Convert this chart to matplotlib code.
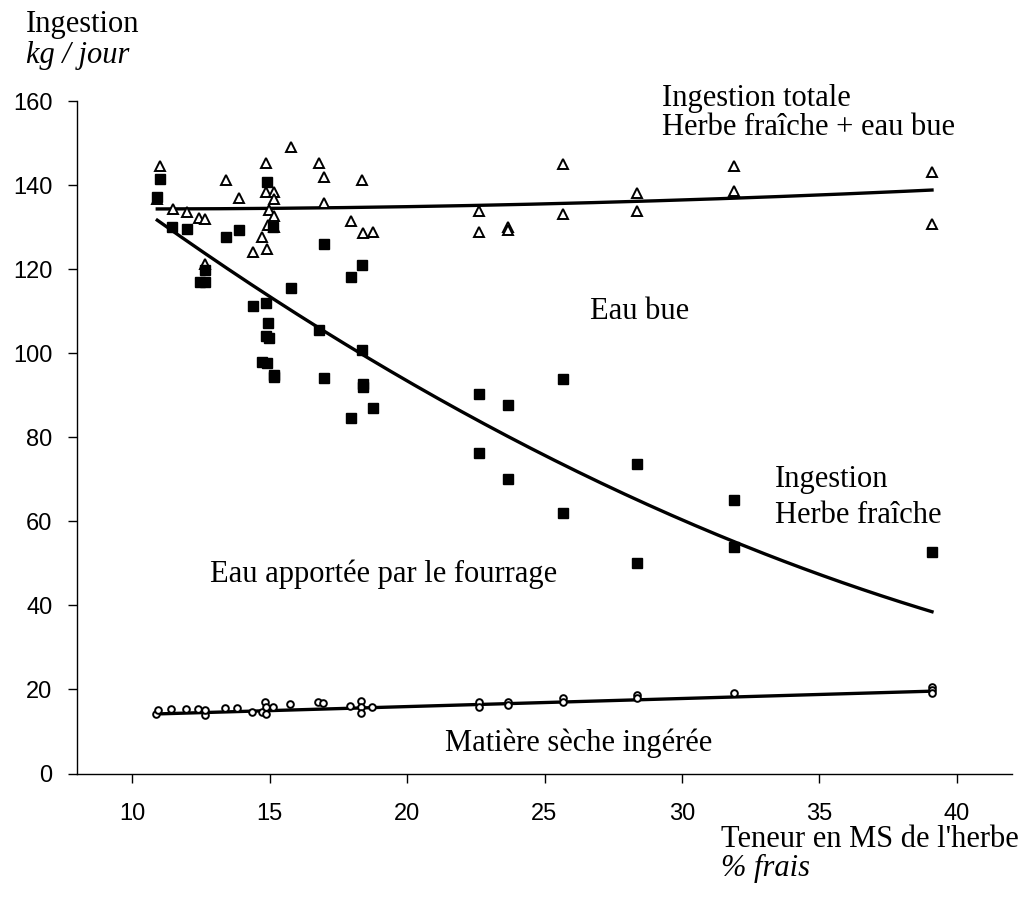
import numpy as np
import matplotlib
matplotlib.use("Agg")
import matplotlib.pyplot as plt

# Ingestion totale (herbe fraiche + eau bue), kg/jour -- open triangles
total_x = [11.0, 15.78, 14.88, 16.78, 13.41, 16.98, 18.36, 10.91, 13.88, 14.88, 15.16, 15.16,
           16.98, 11.47, 11.99, 12.43, 12.63, 14.99, 15.16, 14.93, 15.16, 14.73, 14.40, 14.90,
           17.97, 18.38, 18.75, 12.66,
           22.62, 22.62, 23.66, 23.66, 25.69, 25.69, 28.35, 28.35, 31.9, 31.9, 39.1, 39.1]
total_y = [144.6, 149.2, 145.3, 145.3, 141.3, 141.9, 141.3, 136.7, 137.0, 138.5, 138.4, 136.8,
           135.9, 134.3, 133.6, 132.3, 132.0, 134.2, 132.7, 130.6, 130.0, 127.7, 124.2, 124.8,
           131.6, 128.6, 128.8, 121.2,
           133.8, 128.8, 130.0, 129.5, 145.2, 133.1, 138.1, 133.8, 144.7, 138.7, 143.1, 130.8]

# Ingestion d'herbe fraiche, kg/jour -- filled squares
herbe_x = [11.01, 14.89, 10.91, 11.46, 11.99, 13.41, 13.88, 15.13, 16.98, 18.36, 17.96, 12.66,
           12.46, 12.63, 15.78, 14.40, 14.88, 14.94, 14.87, 14.99, 14.73, 14.89, 15.16, 15.16,
           16.79, 18.35, 16.98, 18.38, 18.38, 18.75, 17.96,
           22.62, 22.62, 23.66, 23.66, 25.69, 25.69, 28.35, 28.35, 31.9, 31.9, 39.1]
herbe_y = [141.5, 140.9, 137.3, 130.2, 129.6, 127.8, 129.4, 130.2, 126.0, 121.1, 118.3, 119.9,
           116.9, 117.1, 115.5, 111.4, 112.0, 107.3, 104.2, 103.6, 98.0, 97.7, 94.9, 94.3,
           105.6, 100.8, 94.1, 92.7, 92.1, 87.1, 84.7,
           90.3, 76.4, 87.7, 70.1, 93.9, 62.1, 73.6, 50.0, 65.1, 54.0, 52.7]

# Matiere seche ingeree, kg/jour -- open circles
ms_x = [10.85, 10.95, 11.41, 11.94, 12.38, 12.63, 12.63, 13.37, 13.82, 14.37, 14.73, 14.83,
        14.85, 14.87, 15.11, 15.74, 16.75, 16.93, 17.92, 18.32, 18.32, 18.32, 18.71,
        22.62, 22.62, 23.66, 23.66, 25.69, 25.69, 28.35, 28.35, 31.9, 39.1, 39.1, 39.1]
ms_y = [14.2, 15.1, 15.3, 15.4, 15.3, 13.9, 15.2, 15.7, 15.5, 14.7, 14.6, 17.0,
        15.9, 14.2, 15.8, 16.5, 17.1, 16.7, 16.1, 17.3, 15.9, 14.5, 15.9,
        17.0, 15.9, 17.0, 16.2, 17.9, 17.1, 18.7, 17.9, 19.2, 20.7, 19.8, 19.1]

# trend line coefficients (highest power first)
total_coef = [0.005247, -0.1027, 134.895]
herbe_coef = [0.0472, -5.667, 187.93]
ms_coef = [0.1922, 12.086]

x_ticks = [10, 15, 20, 25, 30, 35, 40]
y_ticks = [0, 20, 40, 60, 80, 100, 120, 140, 160]

W, H = 1026, 908
fig = plt.figure(figsize=(W / 100, H / 100), dpi=100)
ax = fig.add_axes([77.3 / W, 1 - 773.5 / H, (1011.7 - 77.3) / W, (773.5 - 101.4) / H])

serif = "Liberation Serif"
sans = "Liberation Sans"

for x, coef in ((total_x, total_coef), (herbe_x, herbe_coef), (ms_x, ms_coef)):
    xs = np.linspace(min(x), max(x), 200)
    ax.plot(xs, np.polyval(coef, xs), color="black", lw=2.4, zorder=2)

ax.plot(total_x, total_y, ls="none", marker="^", ms=6.8, mfc="white", mec="black", mew=1.4, zorder=3)
ax.plot(herbe_x, herbe_y, ls="none", marker="s", ms=6.5, mfc="black", mec="black", zorder=3)
ax.plot(ms_x, ms_y, ls="none", marker="o", ms=4.8, mfc="white", mec="black", mew=1.4, zorder=3)

ax.set_xlim(8, 42)
ax.set_ylim(0, 160)
ax.set_xticks(x_ticks)
ax.set_yticks(y_ticks)
for s in ("top", "right"):
    ax.spines[s].set_visible(False)
for s in ("left", "bottom"):
    ax.spines[s].set_linewidth(1.0)
ax.tick_params(direction="out", length=6.8, width=1.0)
ax.tick_params(axis="y", pad=11)
ax.tick_params(axis="x", pad=14.5)
for lab in ax.get_xticklabels() + ax.get_yticklabels():
    lab.set_fontfamily(sans)
    lab.set_fontsize(17)


def label(px, py, s, style="normal"):
    fig.text(px / W, 1 - py / H, s, fontfamily=serif, fontsize=22, style=style,
             ha="left", va="baseline")


label(26, 32, "Ingestion")
label(26, 63, "kg / jour", "italic")
label(662, 106, "Ingestion totale")
label(662, 135, "Herbe fraîche + eau bue")
label(590, 319, "Eau bue")
label(775, 487, "Ingestion")
label(775, 523, "Herbe fraîche")
label(210, 582, "Eau apportée par le fourrage")
label(445, 751, "Matière sèche ingérée")
label(721, 847, "Teneur en MS de l'herbe")
label(721, 876, "% frais", "italic")

fig.savefig("out.png", dpi=100)
